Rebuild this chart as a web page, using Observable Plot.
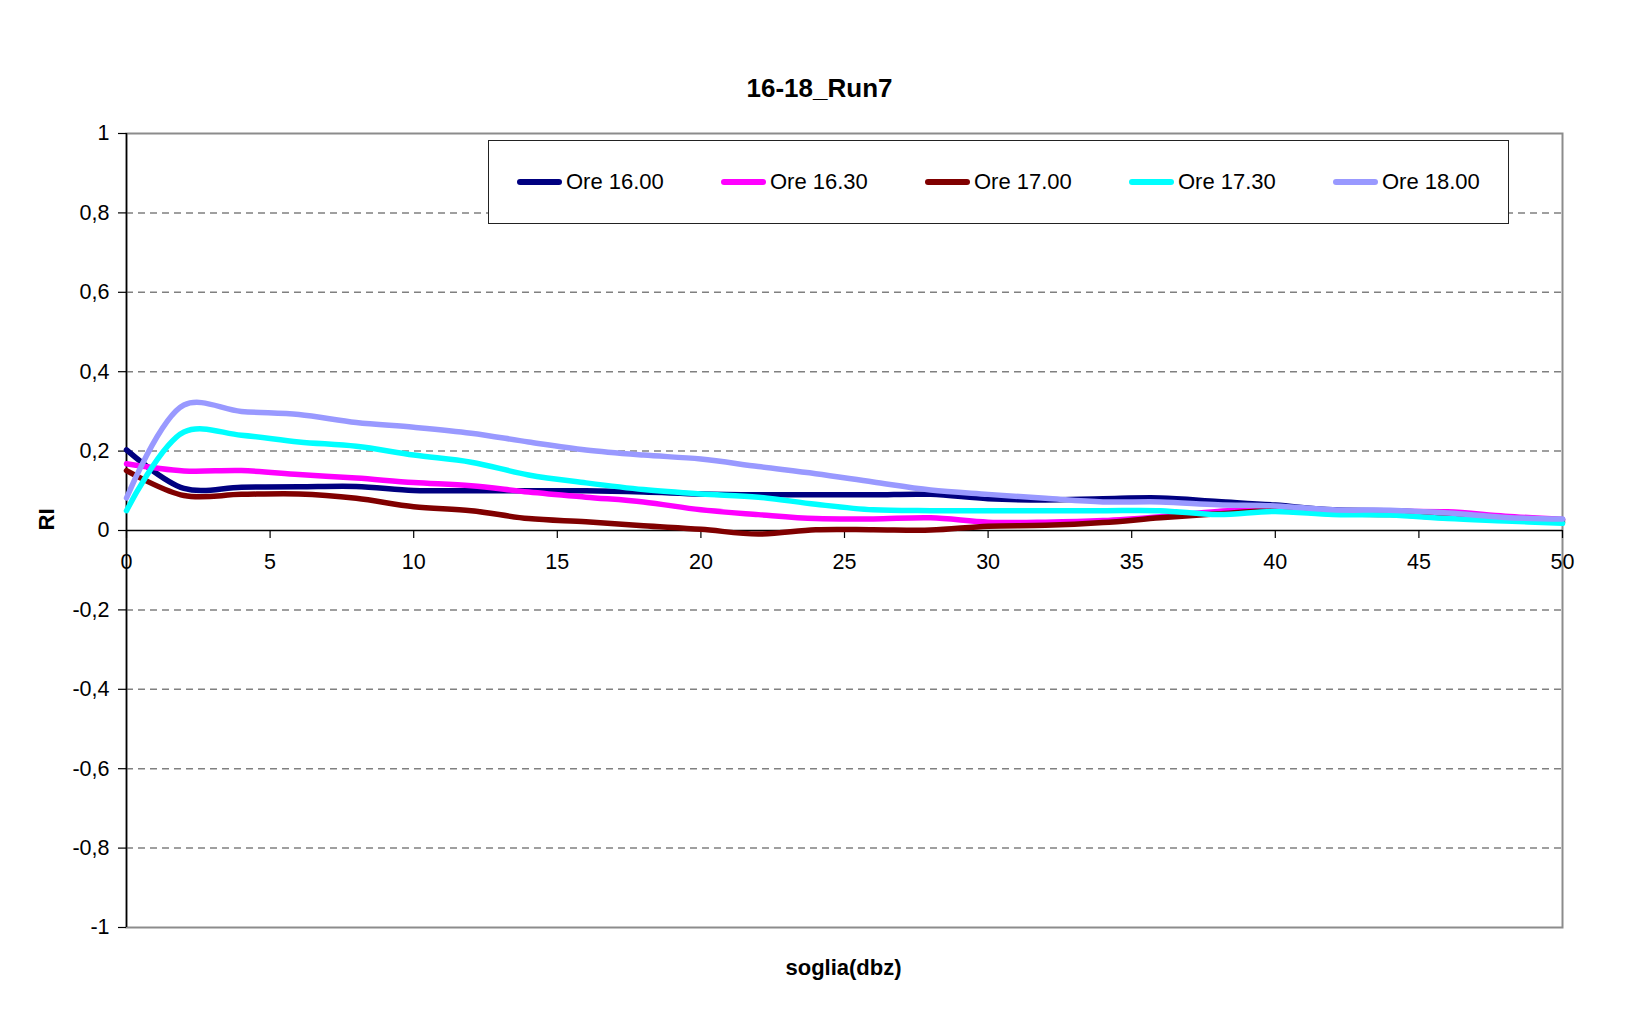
<!DOCTYPE html>
<html>
<head>
<meta charset="utf-8">
<script src="https://cdn.jsdelivr.net/npm/d3@7"></script>
<script src="https://cdn.jsdelivr.net/npm/@observablehq/plot@0.6"></script>
<style>
  html, body { margin: 0; padding: 0; background: #fff; }
  #chart { position: relative; width: 1633px; height: 1014px; font-family: "Liberation Sans", Arial, sans-serif; }
  #chart svg { display: block; }
  #legend {
    position: absolute; left: 488px; top: 140px; width: 1021px; height: 84px;
    border: 1px solid #222; background: #fff; box-sizing: border-box;
  }
  .entry { position: absolute; top: 0; height: 82px; display: flex; align-items: center; font-size: 22px; color: #000; }
  .swatch { display: inline-block; width: 45px; height: 6px; border-radius: 3px; margin-right: 4px; }
</style>
</head>
<body>
<div id="chart"><div id="legend"></div></div>
<script>
// Threshold (dBZ) sampled every 2 units
const soglia = [0, 2, 4, 6, 8, 10, 12, 14, 16, 18, 20, 22, 24, 26, 28, 30, 32, 34, 36, 38, 40, 42, 44, 46, 48, 50];

const ore1600 = [0.203, 0.106, 0.109, 0.110, 0.111, 0.101, 0.100, 0.100, 0.100, 0.097, 0.092, 0.090, 0.090, 0.090, 0.091, 0.080, 0.077, 0.080, 0.082, 0.073, 0.064, 0.052, 0.050, 0.043, 0.033, 0.027];
const ore1630 = [0.168, 0.150, 0.151, 0.141, 0.132, 0.121, 0.113, 0.097, 0.084, 0.072, 0.052, 0.040, 0.030, 0.029, 0.032, 0.021, 0.021, 0.025, 0.035, 0.048, 0.055, 0.048, 0.048, 0.047, 0.036, 0.028];
const ore1700 = [0.151, 0.088, 0.091, 0.092, 0.081, 0.060, 0.050, 0.030, 0.022, 0.012, 0.003, -0.009, 0.002, 0.002, 0.001, 0.011, 0.013, 0.020, 0.032, 0.042, 0.050, 0.042, 0.040, 0.032, 0.027, 0.021];
const ore1730 = [0.050, 0.248, 0.240, 0.223, 0.212, 0.190, 0.172, 0.140, 0.120, 0.103, 0.092, 0.084, 0.066, 0.052, 0.050, 0.050, 0.050, 0.050, 0.050, 0.040, 0.048, 0.040, 0.039, 0.030, 0.024, 0.018];
const ore1800 = [0.082, 0.316, 0.300, 0.292, 0.272, 0.260, 0.245, 0.223, 0.203, 0.190, 0.180, 0.161, 0.143, 0.122, 0.102, 0.091, 0.081, 0.072, 0.072, 0.065, 0.062, 0.052, 0.051, 0.044, 0.033, 0.029];

const seriesNames = ["Ore 16.00", "Ore 16.30", "Ore 17.00", "Ore 17.30", "Ore 18.00"];
const seriesValues = [ore1600, ore1630, ore1700, ore1730, ore1800];
const seriesColors = ["#000080", "#FF00FF", "#800000", "#00FFFF", "#9999FF"];

const xTicks = [0, 5, 10, 15, 20, 25, 30, 35, 40, 45, 50];
const yTicks = [-1, -0.8, -0.6, -0.4, -0.2, 0, 0.2, 0.4, 0.6, 0.8, 1];
const gridTicks = [-0.8, -0.6, -0.4, -0.2, 0.2, 0.4, 0.6, 0.8];

const title = "16-18_Run7";
const xLabel = "soglia(dbz)";
const yLabel = "RI";

// Long-format table: one row per (series, threshold)
const rows = seriesNames.flatMap((name, s) =>
  soglia.map((x, i) => ({serie: name, x, y: seriesValues[s][i]}))
);

const fmt = d => String(Math.round(d * 10) / 10).replace(".", ",");
const font = "'Liberation Sans', Arial, sans-serif";

const chart = Plot.plot({
  width: 1633,
  height: 1014,
  marginLeft: 126,
  marginRight: 71,
  marginTop: 133,
  marginBottom: 87,
  style: {fontFamily: font, background: "#fff", color: "#000"},
  x: {domain: [0, 50], axis: null},
  y: {domain: [-1, 1], axis: null},
  color: {domain: seriesNames, range: seriesColors},
  marks: [
    Plot.ruleY(gridTicks, {stroke: "#808080", strokeWidth: 1.5, strokeDasharray: "7,5"}),
    Plot.frame({stroke: "#8c8c8c", strokeWidth: 2}),
    Plot.axisY({ticks: yTicks, tickFormat: fmt, tickSize: 8, tickPadding: 9, fontSize: 21.5, label: null, stroke: "#000", strokeWidth: 1.2}),
    Plot.ruleX([0], {stroke: "#000", strokeWidth: 1.5}),
    Plot.ruleY([0], {stroke: "#000", strokeWidth: 1.5}),
    Plot.ruleX(xTicks, {x: d => d, y1: 0, y2: 0, insetBottom: -8, stroke: "#000", strokeWidth: 1.2}),
    Plot.text(xTicks, {x: d => d, y: 0, dy: 32, text: d => String(d), fontSize: 21.5, fill: "#000"}),
    Plot.line(rows, {x: "x", y: "y", z: "serie", stroke: "serie", curve: "catmull-rom", strokeWidth: 5.5, strokeLinejoin: "round", strokeLinecap: "round"}),
    Plot.text([title], {frameAnchor: "top", lineAnchor: "middle", dx: -25, dy: -45, fontSize: 26, fontWeight: "bold", fill: "#000"}),
    Plot.text([xLabel], {frameAnchor: "bottom", lineAnchor: "middle", dx: -1, dy: 40, fontSize: 22, fontWeight: "bold", fill: "#000"}),
    Plot.text([yLabel], {frameAnchor: "left", dx: -80, rotate: -90, fontSize: 22, fontWeight: "bold", fill: "#000"})
  ]
});

const root = document.getElementById("chart");
root.insertBefore(chart, root.firstChild);

// Legend entries laid out in a single row inside the boxed panel
const legend = document.getElementById("legend");
seriesNames.forEach((name, i) => {
  const e = document.createElement("div");
  e.className = "entry";
  e.style.left = (28 + i * 204) + "px";
  const sw = document.createElement("span");
  sw.className = "swatch";
  sw.style.background = seriesColors[i];
  const t = document.createElement("span");
  t.textContent = name;
  e.appendChild(sw);
  e.appendChild(t);
  legend.appendChild(e);
});
</script>
</body>
</html>
